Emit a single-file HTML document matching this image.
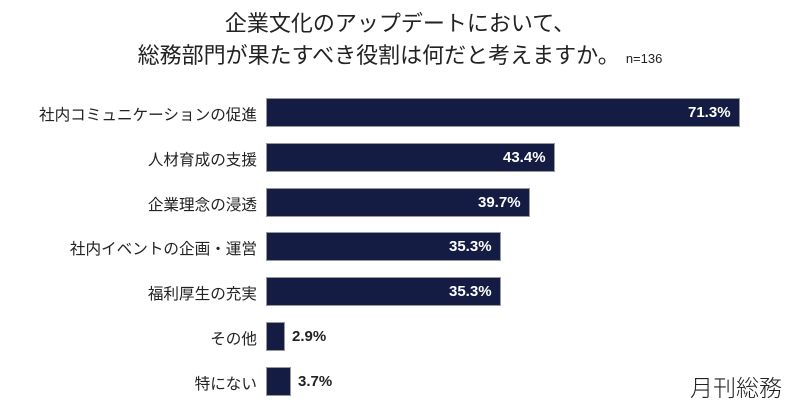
<!DOCTYPE html>
<html><head><meta charset="utf-8"><style>
body{margin:0;width:800px;height:419px;background:#fff;font-family:"Liberation Sans","Noto Sans CJK JP",sans-serif;position:relative;overflow:hidden;color:#222}
.t{position:absolute;left:0;width:800px;text-align:center;font-size:22px;line-height:26px}
.lab{position:absolute;right:543px;font-size:15.6px;text-align:right;white-space:nowrap}
.bar{position:absolute;left:266px;height:29px;background:#141c44;border:1px solid #999;box-sizing:border-box}
.v{position:absolute;font-size:15px;font-weight:bold;color:#fff}
</style></head><body>
<div class="t" style="top:11px">企業文化のアップデートにおいて、</div>
<div class="t" style="top:43px">総務部門が果たすべき役割は何だと考えますか。 <span style="font-size:13px">n=136</span></div>
<div class="lab" style="top:103px">社内コミュニケーションの促進</div>
<div class="bar" style="top:98px;width:474px"></div><div class="v" style="top:104px;left:688px">71.3%</div>
<div class="lab" style="top:148px">人材育成の支援</div>
<div class="bar" style="top:143px;width:289px"></div><div class="v" style="top:149px;left:503px">43.4%</div>
<div class="lab" style="top:193px">企業理念の浸透</div>
<div class="bar" style="top:188px;width:264px"></div><div class="v" style="top:194px;left:478px">39.7%</div>
<div class="lab" style="top:237px">社内イベントの企画・運営</div>
<div class="bar" style="top:232px;width:235px"></div><div class="v" style="top:238px;left:449px">35.3%</div>
<div class="lab" style="top:282px">福利厚生の充実</div>
<div class="bar" style="top:277px;width:235px"></div><div class="v" style="top:283px;left:449px">35.3%</div>
<div class="lab" style="top:327px">その他</div>
<div class="bar" style="top:322px;width:19px"></div><div class="v" style="top:328px;left:292px;color:#222">2.9%</div>
<div class="lab" style="top:372px">特にない</div>
<div class="bar" style="top:367px;width:25px"></div><div class="v" style="top:373px;left:298px;color:#222">3.7%</div>
<div style="position:absolute;left:690px;top:369px;font-size:23px;font-weight:300">月刊総務</div>
</body></html>
